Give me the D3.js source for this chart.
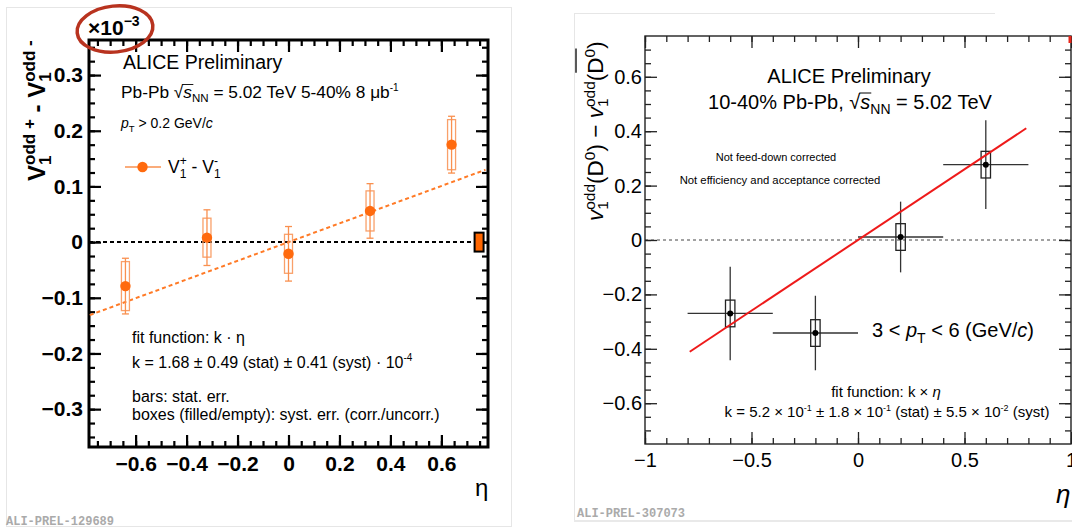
<!DOCTYPE html>
<html>
<head>
<meta charset="utf-8">
<script src="https://cdn.jsdelivr.net/npm/d3@7"></script>
<style>
  body { margin: 0; background: #fff; }
  svg { font-family: "Liberation Sans", Arial, Helvetica, sans-serif; }
</style>
</head>
<body>
<div id="chart"></div>
<script>
// ---- left panel data (units of 10^-3) ----
const leftEta  = [-0.64, -0.32, 0, 0.32, 0.64];
const leftVal  = [-0.079, 0.008, -0.021, 0.056, 0.175];
const leftStat = [0.050, 0.050, 0.049, 0.049, 0.051];
const leftSyst = [0.044, 0.035, 0.035, 0.036, 0.045];
const leftCorrEta = [0.748];
const leftCorrVal = [0];
const leftCorrErr = [0.017];
const leftSlope = 0.168;
const leftFitRange = [-0.78, 0.773];
const leftXTicks = [-0.6, -0.4, -0.2, 0, 0.2, 0.4, 0.6];
const leftYTicks = [-0.3, -0.2, -0.1, 0, 0.1, 0.2, 0.3];

// ---- right panel data ----
const rightEta    = [-0.6, -0.2, 0.2, 0.6];
const rightVal    = [-0.270, -0.342, 0.011, 0.277];
const rightEtaErr = [0.2, 0.2, 0.2, 0.2];
const rightStat   = [0.172, 0.137, 0.130, 0.163];
const rightSyst   = [0.049, 0.049, 0.049, 0.049];
const rightSlope = 0.52;
const rightFitRange = [-0.79, 0.79];
const rightXTicks = [-1, -0.5, 0, 0.5, 1];
const rightYTicks = [-0.6, -0.4, -0.2, 0, 0.2, 0.4, 0.6];

const width = 1072, height = 529;
const svg = d3.select("#chart").append("svg")
  .attr("width", width)
  .attr("height", height);

const fmt = d => d3.format("~g")(d);
const fixed = arr => arr.map(v => Math.round(v * 1000) / 1000);

// text with sub/superscripts; parts: {t, size, shift, it, stack}
function rich(g, x, y, size, parts, attrs = {}) {
  const t = g.append("text").attr("x", x).attr("y", y).attr("font-size", size);
  Object.keys(attrs).forEach(k => t.attr(k, attrs[k]));
  let cur = 0, pending = 0, prevLen = 0;
  parts.forEach(p => {
    const shift = p.shift || 0;
    const s = t.append("tspan").attr("font-size", p.size || size).text(p.t);
    if (p.it) s.attr("font-style", "italic");
    if (shift !== cur) s.attr("dy", shift - cur);
    let dx = 0;
    if (p.stack) dx = -prevLen;
    else if (pending) { dx = pending; pending = 0; }
    if (dx) s.attr("dx", dx);
    const len = s.node().getComputedTextLength();
    if (p.stack) pending = Math.max(0, prevLen - len);
    prevLen = len;
    cur = shift;
    p.node = s.node();
  });
  return t;
}

function drawAxes(g, x, y, o) {
  const [x0, x1] = x.range(), [y0, y1] = y.range();
  const tidy = sel => { sel.select(".domain").remove(); };
  [[d3.axisBottom, y0, true], [d3.axisTop, y1, false]].forEach(([ax, pos, lab]) => {
    g.append("g").attr("transform", `translate(0,${pos})`)
      .call(ax(x).tickValues(o.xMinor).tickSize(-o.minor).tickFormat(""))
      .call(tidy);
    const a = g.append("g").attr("transform", `translate(0,${pos})`)
      .call(ax(x).tickValues(o.xTicks).tickSize(-o.major).tickPadding(o.xPad)
        .tickFormat(lab ? fmt : ""))
      .call(tidy);
    if (lab) a.attr("font-size", o.fontSize).attr("font-weight", o.weight)
      .attr("font-family", null);
  });
  [[d3.axisLeft, x0, true], [d3.axisRight, x1, false]].forEach(([ax, pos, lab]) => {
    g.append("g").attr("transform", `translate(${pos},0)`)
      .call(ax(y).tickValues(o.yMinor).tickSize(-o.minor).tickFormat(""))
      .call(tidy);
    const a = g.append("g").attr("transform", `translate(${pos},0)`)
      .call(ax(y).tickValues(o.yTicks).tickSize(-o.major).tickPadding(o.yPad)
        .tickFormat(lab ? fmt : ""))
      .call(tidy);
    if (lab) a.attr("font-size", o.fontSize).attr("font-weight", o.weight)
      .attr("font-family", null);
  });
  g.selectAll(".tick line").attr("stroke", o.color).attr("stroke-width", o.tickWidth);
  g.selectAll(".tick text").attr("fill", "#000");
  g.append("rect")
    .attr("x", x0).attr("y", y1)
    .attr("width", x1 - x0).attr("height", y0 - y1)
    .attr("fill", "none").attr("stroke", o.color).attr("stroke-width", o.frameWidth);
}

// ================= LEFT PANEL =================
const L = svg.append("g");
L.append("rect").attr("x", 6.5).attr("y", 7.5).attr("width", 505).attr("height", 519)
  .attr("fill", "none").attr("stroke", "#e6e6e6");

const xL = d3.scaleLinear().domain([-0.783, 0.783]).range([89, 488]);
const yL = d3.scaleLinear().domain([-0.368, 0.363]).range([447, 40]);

// zero line
L.append("line")
  .attr("x1", xL.range()[0]).attr("x2", xL.range()[1])
  .attr("y1", yL(0)).attr("y2", yL(0))
  .attr("stroke", "#000").attr("stroke-width", 2).attr("stroke-dasharray", "4,3");

drawAxes(L, xL, yL, {
  xTicks: leftXTicks, yTicks: leftYTicks,
  xMinor: fixed(d3.range(-0.75, 0.76, 0.05)),
  yMinor: fixed(d3.range(-0.35, 0.36, 0.025)),
  major: 12, minor: 6, xPad: 9, yPad: 6,
  fontSize: 21, weight: "bold", color: "#000", tickWidth: 2.2, frameWidth: 3
});

// fit
L.append("line")
  .attr("x1", xL(leftFitRange[0])).attr("y1", yL(leftSlope * leftFitRange[0]))
  .attr("x2", xL(leftFitRange[1])).attr("y2", yL(leftSlope * leftFitRange[1]))
  .attr("stroke", "#ff7a26").attr("stroke-width", 2).attr("stroke-dasharray", "4,3");

const orange = "#ff6a0e";
const leftPts = leftEta.map((e, i) => ({ eta: e, v: leftVal[i], stat: leftStat[i], syst: leftSyst[i] }));
const lp = L.selectAll(".lpt").data(leftPts).enter().append("g").attr("class", "lpt");
lp.append("rect")
  .attr("x", d => xL(d.eta) - 4).attr("width", 8)
  .attr("y", d => yL(d.v + d.syst)).attr("height", d => yL(d.v - d.syst) - yL(d.v + d.syst))
  .attr("fill", "none").attr("stroke", "#f9a06a").attr("stroke-width", 1.3);
lp.append("line")
  .attr("x1", d => xL(d.eta)).attr("x2", d => xL(d.eta))
  .attr("y1", d => yL(d.v + d.stat)).attr("y2", d => yL(d.v - d.stat))
  .attr("stroke", "#f9904f").attr("stroke-width", 1.3);
["+", "-"].forEach(sg => {
  lp.append("line")
    .attr("x1", d => xL(d.eta) - 3.5).attr("x2", d => xL(d.eta) + 3.5)
    .attr("y1", d => yL(sg === "+" ? d.v + d.stat : d.v - d.stat))
    .attr("y2", d => yL(sg === "+" ? d.v + d.stat : d.v - d.stat))
    .attr("stroke", "#f9904f").attr("stroke-width", 1.3);
});
lp.append("circle")
  .attr("cx", d => xL(d.eta)).attr("cy", d => yL(d.v)).attr("r", 5.2)
  .attr("fill", orange);

// correlated syst box
L.selectAll(".corr").data(leftCorrEta).enter().append("rect")
  .attr("x", d => xL(d) - 4.5).attr("width", 9)
  .attr("y", (d, i) => yL(leftCorrVal[i] + leftCorrErr[i]))
  .attr("height", (d, i) => yL(leftCorrVal[i] - leftCorrErr[i]) - yL(leftCorrVal[i] + leftCorrErr[i]))
  .attr("fill", "#ff6600").attr("stroke", "#000").attr("stroke-width", 2);

// multiplier
rich(L, 88, 35, 21, [{ t: "×10" }, { t: "−3", size: 14, shift: -9 }], { "font-weight": "bold" });
L.append("ellipse").attr("cx", 115).attr("cy", 29).attr("rx", 38).attr("ry", 23)
  .attr("transform", "rotate(-6,115,29)")
  .attr("fill", "none").attr("stroke", "#b8331f").attr("stroke-width", 3.5);

// y title
const ytL = L.append("g").attr("transform", "translate(45,181) rotate(-90)");
rich(ytL, 0, 0, 24, [
  { t: "V" }, { t: "odd +", size: 17, shift: -10 }, { t: "1", size: 17, shift: 6, stack: true },
  { t: " - V" }, { t: "odd -", size: 17, shift: -10 }, { t: "1", size: 17, shift: 6, stack: true }
], { "font-weight": "bold" });

// labels
L.append("text").attr("x", 123).attr("y", 69).attr("font-size", 19.5).text("ALICE Preliminary");
const pbParts = [{ t: "Pb-Pb √" }, { t: "s", it: true }, { t: "NN", size: 11.5, shift: 4 },
  { t: " = 5.02 TeV 5-40% 8 μb" }, { t: "-1", size: 10, shift: -7 }];
rich(L, 121, 98, 17.3, pbParts);
const sb = pbParts[1].node.getBBox();
L.append("line").attr("x1", sb.x - 1).attr("x2", sb.x + sb.width + 1)
  .attr("y1", 98 - 13.5).attr("y2", 98 - 13.5).attr("stroke", "#000").attr("stroke-width", 0.9);
rich(L, 121, 128, 14, [{ t: "p", it: true }, { t: "T", size: 9.5, shift: 4 },
  { t: " > 0.2 GeV/" }, { t: "c", it: true }]);

// legend
L.append("line").attr("x1", 125).attr("x2", 161).attr("y1", 167).attr("y2", 167)
  .attr("stroke", "#f9904f").attr("stroke-width", 1.3);
L.append("circle").attr("cx", 142.5).attr("cy", 167).attr("r", 5.2).attr("fill", orange);
rich(L, 168, 173, 17.5, [
  { t: "V" }, { t: "+", size: 12, shift: -8 }, { t: "1", size: 12, shift: 5, stack: true },
  { t: " - V" }, { t: "-", size: 12, shift: -8 }, { t: "1", size: 12, shift: 5, stack: true }
]);

L.append("text").attr("x", 132).attr("y", 343).attr("font-size", 16).text("fit function: k · η");
rich(L, 132, 368, 16, [{ t: "k = 1.68 ± 0.49 (stat) ± 0.41 (syst) · 10" }, { t: "-4", size: 10, shift: -7 }]);
L.append("text").attr("x", 132).attr("y", 401.5).attr("font-size", 16).text("bars: stat. err.");
L.append("text").attr("x", 132).attr("y", 420).attr("font-size", 16)
  .text("boxes (filled/empty): syst. err. (corr./uncorr.)");

L.append("text").attr("x", 475).attr("y", 496).attr("font-size", 24).text("η");
L.append("text").attr("x", 6).attr("y", 525).attr("font-size", 12).attr("font-weight", "bold")
  .attr("font-family", "'Liberation Mono', 'DejaVu Sans Mono', monospace").attr("fill", "#aaa")
  .text("ALI-PREL-129689");

// ================= RIGHT PANEL =================
const R = svg.append("g");
R.append("line").attr("x1", 574.5).attr("x2", 574.5).attr("y1", 13).attr("y2", 521).attr("stroke", "#e6e6e6");
R.append("line").attr("x1", 574).attr("x2", 995).attr("y1", 13.5).attr("y2", 13.5).attr("stroke", "#e6e6e6");
R.append("line").attr("x1", 574).attr("x2", 1072).attr("y1", 521).attr("y2", 521).attr("stroke", "#e9e9e9").attr("stroke-width", 2);

const xR = d3.scaleLinear().domain([-1, 1]).range([645, 1071]);
const yR = d3.scaleLinear().domain([-0.75, 0.75]).range([444, 36]);

R.append("line")
  .attr("x1", xR.range()[0]).attr("x2", xR.range()[1])
  .attr("y1", yR(0)).attr("y2", yR(0))
  .attr("stroke", "#444").attr("stroke-width", 1).attr("stroke-dasharray", "3,3");

drawAxes(R, xR, yR, {
  xTicks: rightXTicks, yTicks: rightYTicks,
  xMinor: fixed(d3.range(-1, 1.01, 0.1)),
  yMinor: fixed(d3.range(-0.7, 0.71, 0.05)),
  major: 12, minor: 6, xPad: 8.5, yPad: 3,
  fontSize: 20, weight: "normal", color: "#222", tickWidth: 1.3, frameWidth: 1.4
});
R.append("line").attr("x1", 1070).attr("x2", 1070).attr("y1", 36).attr("y2", 43)
  .attr("stroke", "#e8261a").attr("stroke-width", 3);

const rightPts = rightEta.map((e, i) => ({ eta: e, v: rightVal[i], ex: rightEtaErr[i], stat: rightStat[i], syst: rightSyst[i] }));
const rp = R.selectAll(".rpt").data(rightPts).enter().append("g").attr("class", "rpt");
rp.append("line")
  .attr("x1", d => xR(d.eta - d.ex)).attr("x2", d => xR(d.eta + d.ex))
  .attr("y1", d => yR(d.v)).attr("y2", d => yR(d.v))
  .attr("stroke", "#333").attr("stroke-width", 1.3);
rp.append("line")
  .attr("x1", d => xR(d.eta)).attr("x2", d => xR(d.eta))
  .attr("y1", d => yR(d.v + d.stat)).attr("y2", d => yR(d.v - d.stat))
  .attr("stroke", "#333").attr("stroke-width", 1.3);
rp.append("rect")
  .attr("x", d => xR(d.eta) - 4.7).attr("width", 9.4)
  .attr("y", d => yR(d.v + d.syst)).attr("height", d => yR(d.v - d.syst) - yR(d.v + d.syst))
  .attr("fill", "none").attr("stroke", "#222").attr("stroke-width", 1.3);
rp.append("circle")
  .attr("cx", d => xR(d.eta)).attr("cy", d => yR(d.v)).attr("r", 3)
  .attr("fill", "#000");

R.append("line")
  .attr("x1", xR(rightFitRange[0])).attr("y1", yR(rightSlope * rightFitRange[0]))
  .attr("x2", xR(rightFitRange[1])).attr("y2", yR(rightSlope * rightFitRange[1]))
  .attr("stroke", "#ee1a1a").attr("stroke-width", 2);

// y title
const ytR = R.append("g").attr("transform", "translate(603,221) rotate(-90)");
const ytParts = [
  { t: "v", it: true }, { t: "odd", size: 15.5, shift: -8 }, { t: "1", size: 15.5, shift: 5, stack: true },
  { t: "(D" }, { t: "0", size: 15.5, shift: -8 }, { t: ")" }, { t: " − " },
  { t: "v", it: true }, { t: "odd", size: 15.5, shift: -8 }, { t: "1", size: 15.5, shift: 5, stack: true },
  { t: "(" }, { t: "D" }, { t: "0", size: 15.5, shift: -8 }, { t: ")" }
];
rich(ytR, 0, 0, 22.5, ytParts);
const bD = ytParts[11].node.getBBox(), b0 = ytParts[12].node.getBBox();
ytR.append("line").attr("x1", bD.x + 1).attr("x2", b0.x + b0.width)
  .attr("y1", -27).attr("y2", -27).attr("stroke", "#000").attr("stroke-width", 1.3);

R.append("text").attr("x", 849).attr("y", 83).attr("font-size", 20)
  .attr("text-anchor", "middle").text("ALICE Preliminary");
const enParts = [{ t: "10-40% Pb-Pb, √" }, { t: "s", it: true }, { t: "NN", size: 14, shift: 5 },
  { t: " = 5.02 TeV" }];
rich(R, 850, 109, 20, enParts, { "text-anchor": "middle" });
const sR = enParts[1].node.getBBox();
R.append("line").attr("x1", sR.x - 1).attr("x2", sR.x + sR.width + 1)
  .attr("y1", 109 - 16).attr("y2", 109 - 16).attr("stroke", "#000").attr("stroke-width", 1);

R.append("text").attr("x", 776).attr("y", 161).attr("font-size", 11)
  .attr("text-anchor", "middle").text("Not feed-down corrected");
R.append("text").attr("x", 780).attr("y", 183.5).attr("font-size", 11.3)
  .attr("text-anchor", "middle").text("Not efficiency and acceptance corrected");

rich(R, 872, 337, 20, [{ t: "3 < " }, { t: "p", it: true }, { t: "T", size: 14, shift: 6 },
  { t: " < 6 (GeV/" }, { t: "c", it: true }, { t: ")" }]);

rich(R, 886, 397, 15, [{ t: "fit function: k × " }, { t: "η", it: true }], { "text-anchor": "middle" });
rich(R, 887, 417, 15, [
  { t: "k = 5.2 × 10" }, { t: "-1", size: 9, shift: -6 },
  { t: " ± 1.8 × 10" }, { t: "-1", size: 9, shift: -6 },
  { t: " (stat) ± 5.5 × 10" }, { t: "-2", size: 9, shift: -6 },
  { t: " (syst)" }
], { "text-anchor": "middle" });

R.append("text").attr("x", 1056).attr("y", 503).attr("font-size", 26)
  .attr("font-style", "italic").text("η");
R.append("text").attr("x", 577).attr("y", 517).attr("font-size", 12).attr("font-weight", "bold")
  .attr("font-family", "'Liberation Mono', 'DejaVu Sans Mono', monospace").attr("fill", "#aaa")
  .text("ALI-PREL-307073");
</script>
</body>
</html>
